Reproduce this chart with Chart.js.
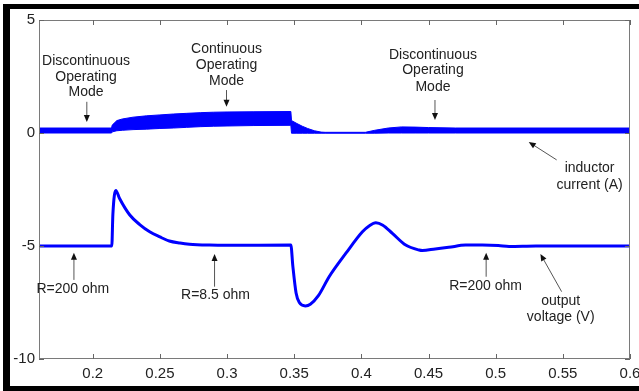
<!DOCTYPE html>
<html>
<head>
<meta charset="utf-8">
<script src="https://cdn.jsdelivr.net/npm/chart.js@4.4.0/dist/chart.umd.min.js"></script>
<style>
    body { margin: 0; background: #fff; }
    #wrap { position: relative; width: 639px; height: 391px; }
</style>
</head>
<body>
<div id="wrap"><canvas id="simChart" width="639" height="391"></canvas></div>
<script>
// time axis ticks
const xTicks = [0.2, 0.25, 0.3, 0.35, 0.4, 0.45, 0.5, 0.55, 0.6];
const yTicks = [-10, -5, 0, 5];

// inductor current (A): switching ripple drawn as an upper / lower envelope
const tCurrent = [0.16, 0.214, 0.2145, 0.218, 0.222, 0.23, 0.24, 0.25, 0.26, 0.27, 0.28, 0.29, 0.30, 0.32, 0.3475,
    0.348, 0.352, 0.356, 0.36, 0.365, 0.37, 0.373, 0.403, 0.41, 0.42, 0.43, 0.44, 0.45, 0.47, 0.6];
const currentUpper = [0.22, 0.22, 0.35, 0.55, 0.62, 0.7, 0.76, 0.8, 0.84, 0.87, 0.9, 0.92, 0.93, 0.94, 0.95,
    0.55, 0.42, 0.3, 0.2, 0.1, 0.04, 0.03, 0.03, 0.12, 0.22, 0.27, 0.26, 0.24, 0.22, 0.22];
const currentLower = [0, 0, 0.05, 0.1, 0.12, 0.15, 0.17, 0.2, 0.22, 0.25, 0.28, 0.3, 0.31, 0.33, 0.34,
    -0.01, -0.01, -0.01, -0.01, -0.01, -0.01, -0.01, -0.01, -0.01, 0, 0, 0, 0, 0, 0];

// output voltage (V)
const tVoltage = [0.16, 0.2142, 0.215, 0.2172, 0.22, 0.2276, 0.235, 0.2424, 0.25, 0.257, 0.265, 0.272, 0.287, 0.30, 0.3475,
    0.349, 0.3514, 0.3538, 0.3583, 0.362, 0.368, 0.376, 0.3885, 0.4008, 0.406, 0.4108, 0.416, 0.4231, 0.433, 0.443,
    0.4454, 0.455, 0.465, 0.4776, 0.49, 0.502, 0.51, 0.53, 0.6];
const outputVoltage = [-5, -5, -3.6, -2.54, -2.9, -3.63, -4.05, -4.37, -4.6, -4.78, -4.87, -4.92, -4.96, -4.97, -4.96,
    -5.9, -7.08, -7.5, -7.65, -7.58, -7.2, -6.36, -5.32, -4.37, -4.1, -3.97, -4.08, -4.44, -4.96, -5.18,
    -5.2, -5.13, -5.06, -4.96, -4.96, -4.98, -5.02, -5.0, -5.0];

// annotation text (data coords of each line centre) and arrows
const notes = [
    { x: 0.195, y: [3.2, 2.49, 1.83], lines: ['Discontinuous', 'Operating', 'Mode'] },
    { x: 0.2996, y: [3.7, 3.01, 2.31], lines: ['Continuous', 'Operating', 'Mode'] },
    { x: 0.4533, y: [3.45, 2.76, 2.02], lines: ['Discontinuous', 'Operating', 'Mode'] },
    { x: 0.5699, y: [-1.56, -2.3], lines: ['inductor', 'current (A)'] },
    { x: 0.1852, y: [-6.92], lines: ['R=200 ohm'] },
    { x: 0.2914, y: [-7.17], lines: ['R=8.5 ohm'] },
    { x: 0.4925, y: [-6.77], lines: ['R=200 ohm'] },
    { x: 0.5484, y: [-7.46, -8.15], lines: ['output', 'voltage (V)'] }
];
const arrows = [
    { from: [0.1956, 1.38], to: [0.1956, 0.49] },
    { from: [0.2996, 1.9], to: [0.2996, 1.16] },
    { from: [0.4548, 1.46], to: [0.4548, 0.58] },
    { from: [0.5454, -1.19], to: [0.5246, -0.4] },
    { from: [0.186, -6.5], to: [0.186, -5.3] },
    { from: [0.2907, -6.8], to: [0.2907, -5.35] },
    { from: [0.4929, -6.36], to: [0.4929, -5.3] },
    { from: [0.5491, -7.02], to: [0.5333, -5.35] }
];

const toPoints = (xs, ys) => xs.map((x, i) => ({ x: x, y: ys[i] }));

// white page, black frame, matlab style box + inward ticks, notes
const decorPlugin = {
    id: 'decor',
    beforeDraw(chart) {
        const c = chart.ctx;
        c.save();
        c.fillStyle = '#fff';
        c.fillRect(0, 0, chart.width, chart.height);
        c.restore();
    },
    afterDraw(chart) {
        const c = chart.ctx;
        const a = chart.chartArea;
        const xs = chart.scales.x, ys = chart.scales.y;
        c.save();

        // axes box
        c.strokeStyle = '#7a7a7a';
        c.lineWidth = 1;
        c.strokeRect(Math.round(a.left) + 0.5, Math.round(a.top) + 0.5,
            Math.round(a.right - a.left) - 1, Math.round(a.bottom - a.top) - 1);

        // inward ticks
        c.strokeStyle = '#666';
        c.beginPath();
        xTicks.forEach(v => {
            const px = Math.round(xs.getPixelForValue(v)) + 0.5;
            c.moveTo(px, a.bottom); c.lineTo(px, a.bottom - 5);
            c.moveTo(px, a.top); c.lineTo(px, a.top + 5);
        });
        yTicks.forEach(v => {
            const py = Math.round(ys.getPixelForValue(v)) + 0.5;
            c.moveTo(a.left, py); c.lineTo(a.left + 5, py);
            c.moveTo(a.right, py); c.lineTo(a.right - 5, py);
        });
        c.stroke();

        // note text
        c.fillStyle = '#222';
        c.font = '14px "Liberation Sans", Arial, sans-serif';
        c.textAlign = 'center';
        c.textBaseline = 'middle';
        notes.forEach(n => {
            n.lines.forEach((t, i) => {
                c.fillText(t, xs.getPixelForValue(n.x), ys.getPixelForValue(n.y[i]));
            });
        });

        // arrows
        arrows.forEach(ar => {
            const x1 = xs.getPixelForValue(ar.from[0]), y1 = ys.getPixelForValue(ar.from[1]);
            const x2 = xs.getPixelForValue(ar.to[0]), y2 = ys.getPixelForValue(ar.to[1]);
            const ang = Math.atan2(y2 - y1, x2 - x1);
            c.strokeStyle = '#555';
            c.lineWidth = 1;
            c.beginPath();
            c.moveTo(x1, y1);
            c.lineTo(x2 - 4 * Math.cos(ang), y2 - 4 * Math.sin(ang));
            c.stroke();
            c.fillStyle = '#111';
            c.beginPath();
            c.moveTo(x2, y2);
            c.lineTo(x2 - 7 * Math.cos(ang) + 3 * Math.sin(ang), y2 - 7 * Math.sin(ang) - 3 * Math.cos(ang));
            c.lineTo(x2 - 7 * Math.cos(ang) - 3 * Math.sin(ang), y2 - 7 * Math.sin(ang) + 3 * Math.cos(ang));
            c.closePath();
            c.fill();
        });

        // outer black frame (left, top, bottom)
        c.fillStyle = '#000';
        c.fillRect(3, 4, 636, 5);
        c.fillRect(3, 4, 7, 387);
        c.fillRect(3, 386, 636, 5);
        c.restore();
    }
};

const ctx = document.getElementById('simChart').getContext('2d');

new Chart(ctx, {
    type: 'line',
    data: {
        datasets: [
            {
                label: 'inductor current upper',
                data: toPoints(tCurrent, currentUpper),
                borderColor: '#0000ff',
                backgroundColor: '#0000ff',
                borderWidth: 1,
                pointRadius: 0,
                fill: '+1',
                tension: 0
            },
            {
                label: 'inductor current lower',
                data: toPoints(tCurrent, currentLower),
                borderColor: '#0000ff',
                borderWidth: 1,
                pointRadius: 0,
                fill: false,
                tension: 0
            },
            {
                label: 'output voltage',
                data: toPoints(tVoltage, outputVoltage),
                borderColor: '#0000ff',
                borderWidth: 3,
                pointRadius: 0,
                fill: false,
                cubicInterpolationMode: 'monotone'
            }
        ]
    },
    options: {
        responsive: false,
        animation: false,
        devicePixelRatio: 1,
        layout: { padding: { top: 20, right: 9, left: 0, bottom: 0 } },
        plugins: {
            legend: { display: false },
            tooltip: { enabled: false }
        },
        scales: {
            x: {
                type: 'linear',
                min: 0.16,
                max: 0.6,
                afterBuildTicks: s => { s.ticks = xTicks.map(v => ({ value: v })); },
                afterFit: s => { s.height = 32; s.paddingLeft = 0; s.paddingRight = 0; },
                grid: { display: false, drawTicks: false },
                border: { display: false },
                ticks: {
                    color: '#222',
                    padding: 6,
                    maxRotation: 0,
                    autoSkip: false,
                    font: { family: "'Liberation Sans', Arial, sans-serif", size: 15 },
                    callback: v => String(v)
                }
            },
            y: {
                min: -10,
                max: 5,
                afterBuildTicks: s => { s.ticks = yTicks.map(v => ({ value: v })); },
                afterFit: s => { s.width = 39; s.paddingTop = 0; s.paddingBottom = 0; },
                grid: { display: false, drawTicks: false },
                border: { display: false },
                ticks: {
                    color: '#222',
                    padding: 4,
                    font: { family: "'Liberation Sans', Arial, sans-serif", size: 15 },
                    callback: v => String(v)
                }
            }
        }
    },
    plugins: [decorPlugin]
});
</script>
</body>
</html>
